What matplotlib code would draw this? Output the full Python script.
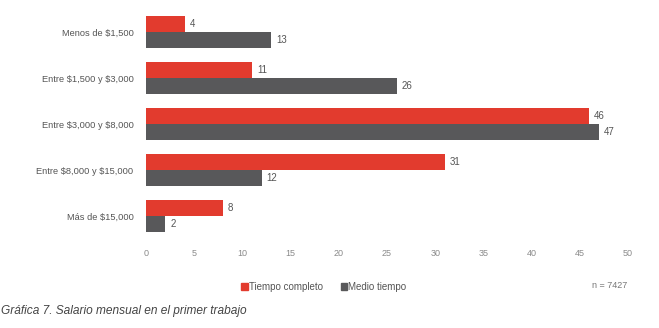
import numpy as np
import matplotlib
matplotlib.use('Agg')
import matplotlib.pyplot as plt
from matplotlib.patches import Patch

categories = ['Menos de $1,500', 'Entre $1,500 y $3,000', 'Entre $3,000 y $8,000',
              'Entre $8,000 y $15,000', 'Más de $15,000']
tiempo_completo = [4, 11, 46, 31, 8]
medio_tiempo    = [13, 26, 47, 12, 2]
x_ticks = [0, 5, 10, 15, 20, 25, 30, 35, 40, 45, 50]

RED  = '#E23B2E'
GRAY = '#58585A'
TXT  = '#555555'

plt.rcParams['font.family'] = ['Liberation Sans', 'DejaVu Sans']
plt.rcParams['text.parse_math'] = False

fig = plt.figure(figsize=(6.59, 3.28), dpi=100)
ax = fig.add_axes([146/659, 1 - 239/328, (628 - 146)/659, 230/328])

y = np.arange(len(categories))
h = 0.35
ax.barh(y - h/2, tiempo_completo, height=h, color=RED)
ax.barh(y + h/2, medio_tiempo, height=h, color=GRAY)

for yi, v in zip(y, tiempo_completo):
    ax.text(v + 0.5, yi - h/2, str(v), va='center', ha='left', fontsize=7, color=TXT)
for yi, v in zip(y, medio_tiempo):
    ax.text(v + 0.5, yi + h/2, str(v), va='center', ha='left', fontsize=7, color=TXT)

ax.set_xlim(0, 50)
ax.set_ylim(4.5, -0.5)
ax.set_xticks(x_ticks)
ax.set_xticklabels([str(t) for t in x_ticks], fontsize=6.5, color='#8a8a8a')
ax.set_yticks(y)
ax.set_yticklabels(categories, fontsize=6.7, color=TXT)
ax.tick_params(length=0, pad=9)
ax.tick_params(axis='x', pad=7)
for s in ax.spines.values():
    s.set_visible(False)

handles = [Patch(color=RED, label='Tiempo completo'), Patch(color=GRAY, label='Medio tiempo')]
fig.legend(handles=handles, loc='center', bbox_to_anchor=(324/659, 1 - 287/328), ncol=2,
           frameon=False, fontsize=7, labelcolor=TXT, handlelength=0.7, handleheight=0.7,
           handletextpad=0.1, columnspacing=1.8)

fig.text(610/659, 1 - 285/328, 'n = 7427', ha='center', va='center', fontsize=6.5, color='#777777')
fig.text(1/659, 1 - 311/328, 'Gráfica 7. Salario mensual en el primer trabajo', ha='left', va='center',
         fontsize=8.6, style='italic', color='#444444')

fig.savefig('out.png', dpi=100)
